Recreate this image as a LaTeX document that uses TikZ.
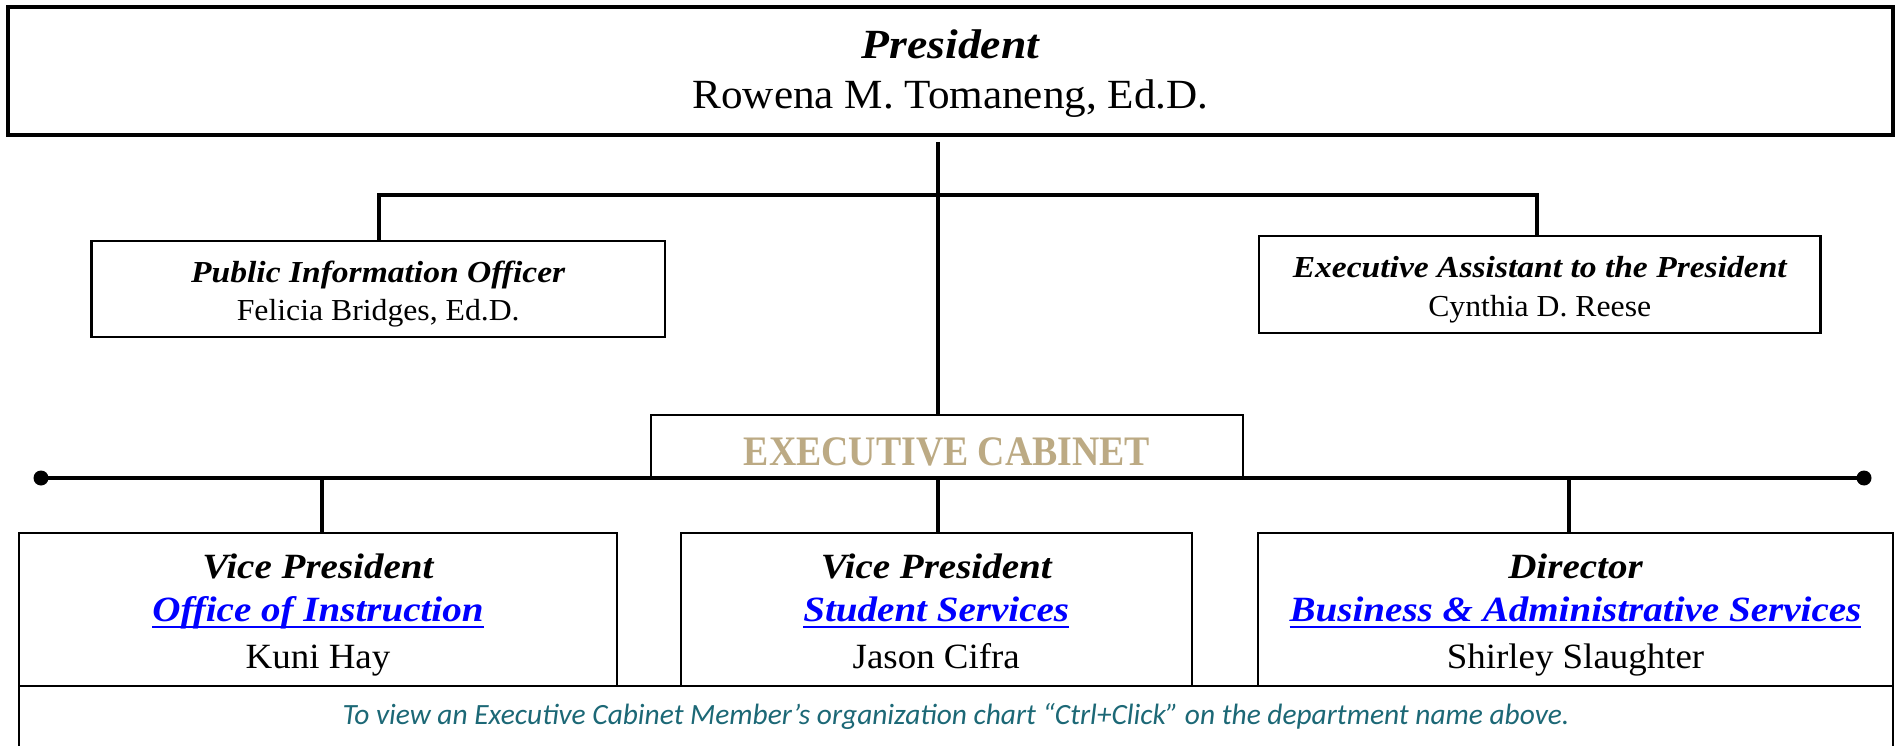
\documentclass[tikz,border=0pt]{standalone}
\usepackage{fontspec}
\setmainfont{Liberation Serif}
\newfontfamily\rmF{Liberation Serif}[FakeStretch=1.04]
\newfontfamily\biF{Liberation Serif}[FakeStretch=1.10]
\newfontfamily\ecF{Liberation Serif}[FakeStretch=0.90]
\newfontfamily\noteF{Carlito}
\definecolor{ectan}{RGB}{188,170,132}
\definecolor{noteteal}{RGB}{28,104,118}
\definecolor{linkblue}{RGB}{0,0,255}
\begin{document}
\begin{tikzpicture}[x=1pt,y=-1pt,
  box/.style={draw=black, line width=2.3pt, inner sep=0pt, outer sep=0pt, fill=white},
  conn/.style={draw=black, line width=4pt},
  txt/.style={inner sep=0pt, outer sep=0pt, anchor=base},
  ttl/.style={txt, font=\biF\bfseries\itshape\fontsize{#1}{#1}\selectfont},
  nm/.style={txt, font=\rmF\fontsize{#1}{#1}\selectfont},
  lnk/.style={txt, text=linkblue, font=\biF\bfseries\itshape\fontsize{#1}{#1}\selectfont},
  uline/.style={draw=linkblue, line width=2pt},
  dot/.style={circle, fill=black, inner sep=0pt, outer sep=0pt, minimum size=15pt}
]
\useasboundingbox (0,0) rectangle (1900,746);

% boxes
\node[box, line width=4pt, minimum width=1885pt, minimum height=128pt] (pres) at (950.5,71) {};
\node[box, minimum width=573.5pt, minimum height=96pt] (pio) at (378.25,289) {};
\node[box, minimum width=561.5pt, minimum height=97pt] (ea) at (1539.75,284.5) {};
\node[box, line width=2pt, minimum width=592pt, minimum height=63pt] (ec) at (947,446.5) {};
\node[box, line width=2pt, minimum width=1874pt, minimum height=74pt] (note) at (956,723) {};
\node[box, line width=2pt, minimum width=598pt, minimum height=153pt] (vp1) at (318,609.5) {};
\node[box, line width=2pt, minimum width=510.5pt, minimum height=153pt] (vp2) at (936.25,609.5) {};
\node[box, line width=2pt, minimum width=635pt, minimum height=153pt] (vp3) at (1575.5,609.5) {};

% connector points
\coordinate (t0) at (938,142);
\coordinate (h1) at (379,195);
\coordinate (h2) at (1537,195);
\coordinate (d1) at (322,478);
\coordinate (d3) at (1569,478);
\node[dot] (dl) at (41,478) {};
\node[dot] (dr) at (1864,478) {};

% connectors
\draw[conn] (t0) -- (t0 |- ec.north);
\draw[conn] (h1 |- pio.north) -- (h1) -- (h2) -- (h2 |- ea.north);
\draw[conn] (dl.center) -- (dr.center);
\draw[conn] (d1) -- (d1 |- vp1.north);
\draw[conn] (t0 |- dl) -- (t0 |- vp2.north);
\draw[conn] (d3) -- (d3 |- vp3.north);

% texts
\node[ttl=41.5] (presT) at (950.5,59) {President};
\node[nm=41.5] (presN) at (950.5,109) {Rowena M. Tomaneng, Ed.D.};

\node[ttl=30.5] (pioT) at (378.25,282) {Public Information Officer};
\node[nm=30.5] (pioN) at (378.25,320) {Felicia Bridges, Ed.D.};

\node[ttl=30.5] (eaT) at (1539.75,277) {Executive Assistant to the President};
\node[nm=30.5] (eaN) at (1539.75,316) {Cynthia D. Reese};

\node[txt, text=ectan, font=\ecF\bfseries\fontsize{42}{42}\selectfont] (ecT) at (947,465) {EXECUTIVE CABINET};

\node[ttl=35.5] (vp1T) at (318,578) {Vice President};
\node[lnk=35.5] (vp1L) at (318,621) {Office of Instruction};
\node[nm=35.5] (vp1N) at (318,668) {Kuni Hay};

\node[ttl=35.5] (vp2T) at (936.25,578) {Vice President};
\node[lnk=35.5] (vp2L) at (936.25,621) {Student Services};
\node[nm=35.5] (vp2N) at (936.25,668) {Jason Cifra};

\node[ttl=35.5] (vp3T) at (1575.5,578) {Director};
\node[lnk=35.5] (vp3L) at (1575.5,621) {Business \& Administrative Services};
\node[nm=35.5] (vp3N) at (1575.5,668) {Shirley Slaughter};

\draw[uline] ([yshift=-6pt]vp1L.base west) -- ([yshift=-6pt]vp1L.base east);
\draw[uline] ([yshift=-6pt]vp2L.base west) -- ([yshift=-6pt]vp2L.base east);
\draw[uline] ([yshift=-6pt]vp3L.base west) -- ([yshift=-6pt]vp3L.base east);

\node[txt, text=noteteal, font=\noteF\itshape\fontsize{29.4}{29.4}\selectfont] (noteT) at (956,724) {To view an Executive Cabinet Member’s organization chart “Ctrl+Click” on the department name above.};
\end{tikzpicture}
\end{document}
